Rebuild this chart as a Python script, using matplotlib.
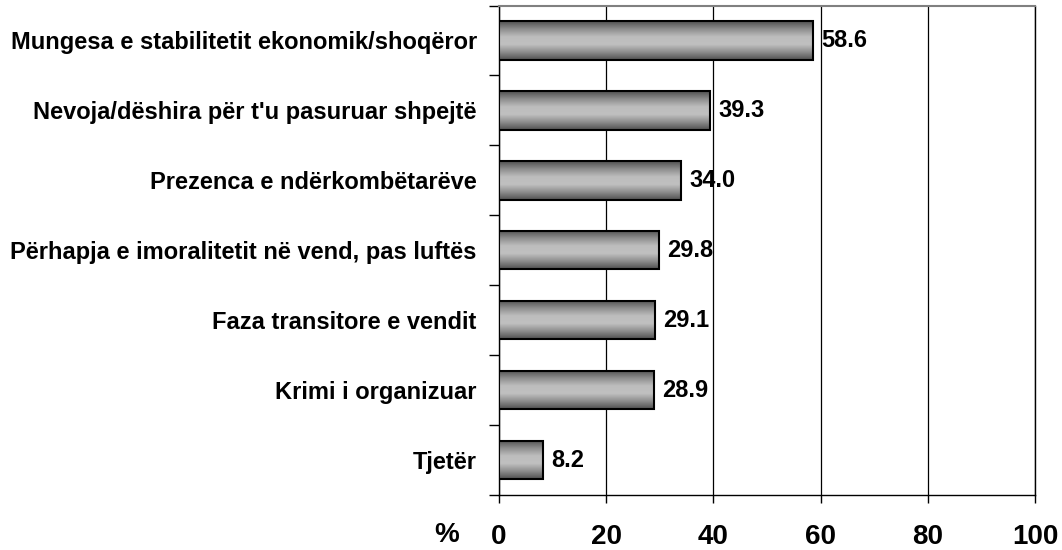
import numpy as np
import matplotlib
matplotlib.use("Agg")
import matplotlib.pyplot as plt
from matplotlib.colors import LinearSegmentedColormap

categories = ["Mungesa e stabilitetit ekonomik/shoqëror",
              "Nevoja/dëshira për t'u pasuruar shpejtë",
              "Prezenca e ndërkombëtarëve",
              "Përhapja e imoralitetit në vend, pas luftës",
              "Faza transitore e vendit",
              "Krimi i organizuar",
              "Tjetër"]
values = [58.6, 39.3, 34.0, 29.8, 29.1, 28.9, 8.2]
xticks = [0, 20, 40, 60, 80, 100]

plt.rcParams['font.family'] = ['Liberation Sans', 'DejaVu Sans']
plt.rcParams['font.weight'] = 'bold'

fig = plt.figure(figsize=(10.62, 5.5), dpi=100)
ax = fig.add_axes([0.4699, 0.1, 0.5047, 0.89])

y = np.arange(len(categories))
h = 0.55
bars = ax.barh(y, values, height=h, facecolor='none', edgecolor='black',
               linewidth=1.5, zorder=4)

cmap = LinearSegmentedColormap.from_list(
    'g', ['#505050', '#8c8c8c', '#bdbdbd', '#c0c0c0', '#8c8c8c', '#505050'])
grad = np.linspace(0, 1, 256).reshape(-1, 1)
for b, yi, v in zip(bars, y, values):
    im = ax.imshow(grad, extent=[0, v, yi + h / 2, yi - h / 2], aspect='auto',
                   cmap=cmap, zorder=3, interpolation='bilinear')
    im.set_clip_path(b)
    ax.text(v + 1.6, yi, f"{v:.1f}", va='center', ha='left',
            fontsize=17, fontweight='bold', zorder=5)

ax.set_xlim(0, 100)
ax.set_ylim(len(categories) - 0.5, -0.5)
ax.set_xticks(xticks)
ax.set_xticklabels([str(t) for t in xticks], fontsize=20, fontweight='bold')
ax.tick_params(axis='x', direction='out', length=6, width=1, pad=15)

ax.set_yticks(np.arange(-0.5, len(categories), 1.0))
ax.set_yticklabels([])
ax.set_yticks(y, minor=True)
ax.set_yticklabels(categories, minor=True, fontsize=17, fontweight='bold')
ax.tick_params(axis='y', which='major', direction='out', length=7, width=1)
ax.tick_params(axis='y', which='minor', length=0, pad=16)

ax.grid(axis='x', color='black', linewidth=0.9, zorder=0)
ax.set_axisbelow(True)
for s in ['left', 'bottom', 'right']:
    ax.spines[s].set_color('black')
    ax.spines[s].set_linewidth(1.0)
ax.spines['top'].set_color('#808080')
ax.spines['top'].set_linewidth(1.5)

fig.text(447 / 1062, 1 - 535 / 550, '%', fontsize=20, fontweight='bold',
         ha='center', va='center')

fig.savefig('out.png', dpi=100)
